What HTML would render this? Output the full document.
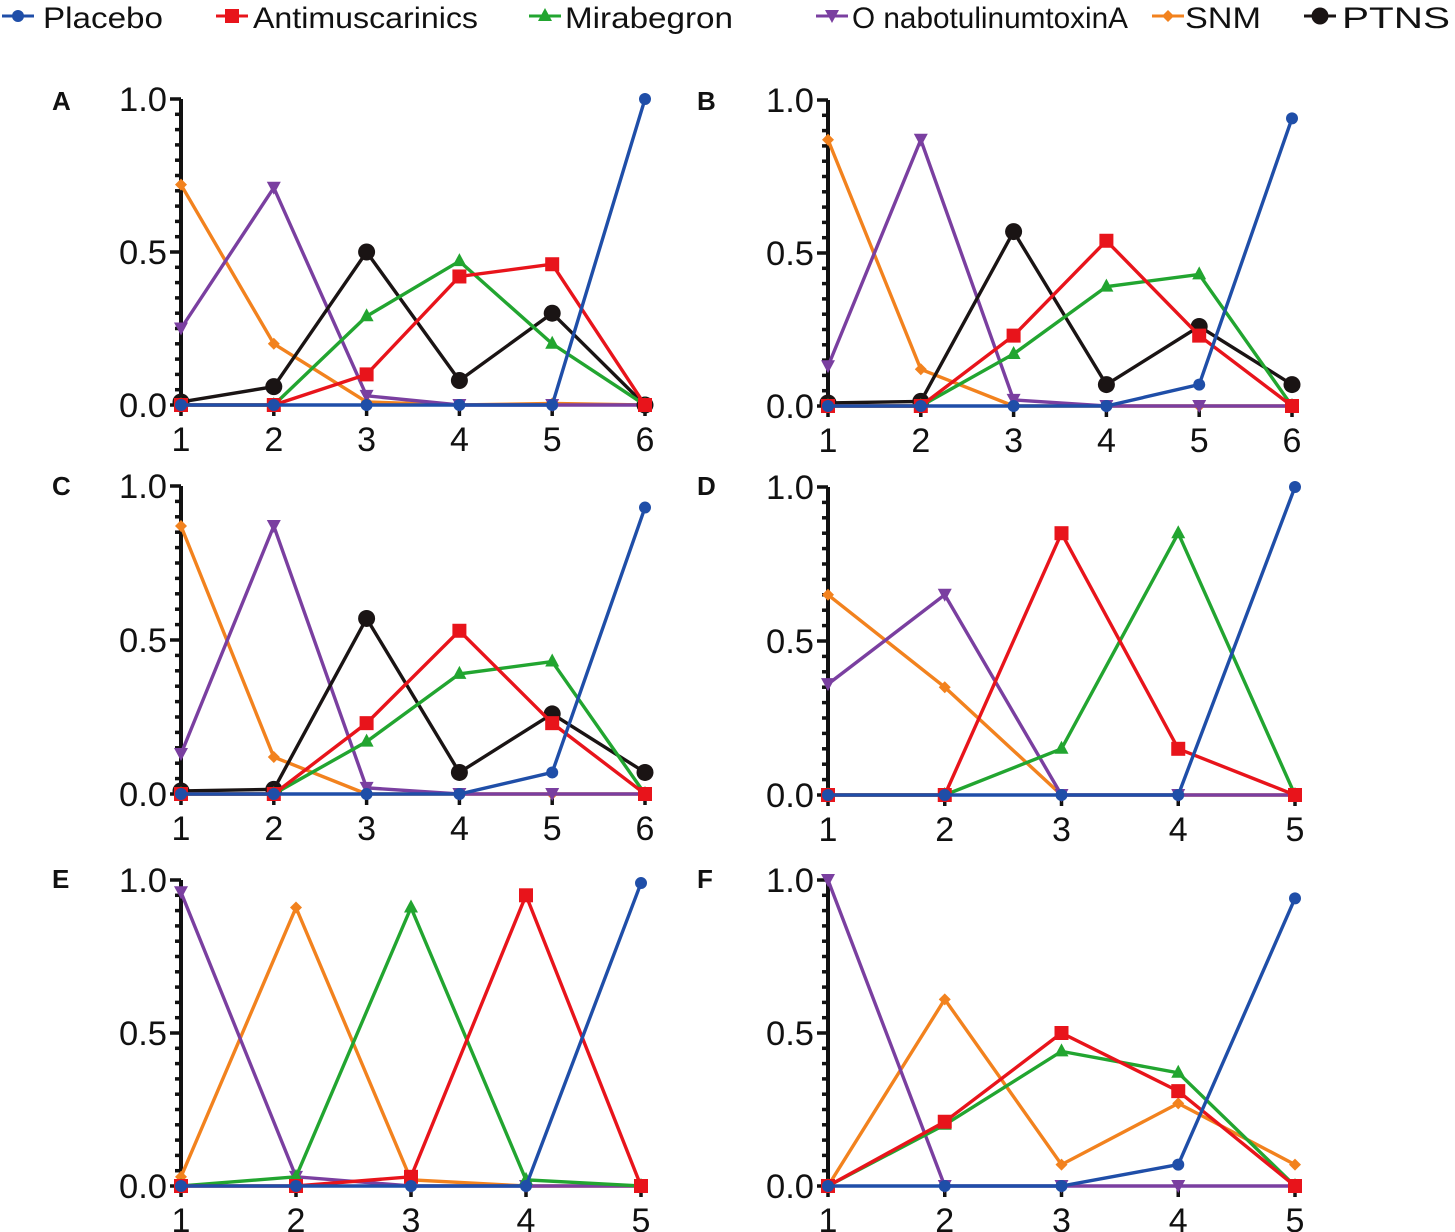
<!DOCTYPE html>
<html><head><meta charset="utf-8"><style>
html,body{margin:0;padding:0;background:#fff;}
svg{display:block;font-family:"Liberation Sans",Arial,sans-serif;}
</style></head><body>
<svg id="chart" width="1455" height="1232" viewBox="0 0 1455 1232"></svg>
<script>
const seriesNames = ["Placebo","Antimuscarinics","Mirabegron","OnabotulinumtoxinA","SNM","PTNS"];
const seriesColors = ["#1f4ea8","#e8141b","#22a530","#7a3fa0","#f2821e","#1a1414"];
const legendLabels = ["Placebo","Antimuscarinics","Mirabegron","O nabotulinumtoxinA","SNM","PTNS"];
const yTicks = [0,0.5,1.0];
const yTickLabels = ["0.0","0.5","1.0"];
const panelLabels = ["A","B","C","D","E","F"];
const panelCats = [[1,2,3,4,5,6],[1,2,3,4,5,6],[1,2,3,4,5,6],[1,2,3,4,5],[1,2,3,4,5],[1,2,3,4,5]];
const dataA = [[0,0,0,0,0,1.0],[0,0,0.1,0.42,0.46,0],[0,0,0.29,0.47,0.2,0],[0.25,0.71,0.03,0,0,0],[0.72,0.2,0.01,0,0.005,0],[0.01,0.06,0.5,0.08,0.3,0]];
const dataB = [[0,0,0,0,0.07,0.94],[0,0,0.23,0.54,0.23,0],[0,0,0.17,0.39,0.43,0],[0.13,0.87,0.02,0,0,0],[0.87,0.12,0,0,0,0],[0.01,0.015,0.57,0.07,0.26,0.07]];
const dataC = [[0,0,0,0,0.07,0.93],[0,0,0.23,0.53,0.23,0],[0,0,0.17,0.39,0.43,0],[0.13,0.87,0.02,0,0,0],[0.87,0.12,0,0,0,0],[0.01,0.015,0.57,0.07,0.26,0.07]];
const dataD = [[0,0,0,0,1.0],[0,0,0.85,0.15,0],[0,0,0.15,0.85,0],[0.36,0.65,0,0,0],[0.65,0.35,0,0,0]];
const dataE = [[0,0,0,0,0.99],[0,0,0.03,0.95,0],[0,0.03,0.91,0.02,0],[0.96,0.03,0,0,0],[0.03,0.91,0.02,0,0]];
const dataF = [[0,0,0,0.07,0.94],[0,0.21,0.5,0.31,0],[0,0.2,0.44,0.37,0],[1.0,0,0,0,0],[0,0.61,0.07,0.27,0.07]];
const panelData = [dataA,dataB,dataC,dataD,dataE,dataF];
const geom = [
 {x0:181,x1:645,yTop:99,yBot:405,lx:52,ly:110},
 {x0:828,x1:1292,yTop:100,yBot:406,lx:697,ly:110},
 {x0:181,x1:645,yTop:486,yBot:794,lx:52,ly:495},
 {x0:828,x1:1295,yTop:487,yBot:795,lx:697,ly:495},
 {x0:181,x1:641,yTop:880,yBot:1186,lx:52,ly:888},
 {x0:828,x1:1295,yTop:880,yBot:1186,lx:697,ly:888}
];
const NS="http://www.w3.org/2000/svg";
const svg=document.getElementById('chart');
function mk(tag,attrs,parent){const e=document.createElementNS(NS,tag);for(const k in attrs)e.setAttribute(k,attrs[k]);(parent||svg).appendChild(e);return e;}
function marker(g,s,x,y){
  const c=seriesColors[s];let m;
  if(s===0) m=mk('circle',{cx:x,cy:y,r:6,fill:c},g);
  else if(s===1) m=mk('rect',{x:x-7,y:y-7,width:14,height:14,fill:c},g);
  else if(s===2) m=mk('polygon',{points:`${x},${y-8} ${x+7},${y+5} ${x-7},${y+5}`,fill:c},g);
  else if(s===3) m=mk('polygon',{points:`${x-7},${y-6} ${x+7},${y-6} ${x},${y+7}`,fill:c},g);
  else if(s===4) m=mk('polygon',{points:`${x},${y-6} ${x+6},${y} ${x},${y+6} ${x-6},${y}`,fill:c},g);
  else m=mk('circle',{cx:x,cy:y,r:8.5,fill:c},g);
  
  
}
const legMark=[18,232,545,832,1168,1320];
const legTextX=[43,253,565,852,1185,1342];
const legW=[120,225,168,276,76,108];
const lg=mk('g',{});


legendLabels.forEach((t,i)=>{
  const e=mk('g',{},lg);
  
  
  mk('line',{x1:legMark[i]-16,y1:16,x2:legMark[i]+16,y2:16,stroke:seriesColors[i],'stroke-width':3},e);
  marker(e,i,legMark[i],16);
  const tx=mk('text',{x:legTextX[i],y:28,'font-size':30,fill:'#111',textLength:legW[i],lengthAdjust:'spacingAndGlyphs'},e);
  tx.textContent=t;
});
panelData.forEach((data,p)=>{
  const G=geom[p],cats=panelCats[p];
  const g=mk('g',{});
  
  
  const xs=c=>G.x0+(c-cats[0])/(cats[cats.length-1]-cats[0])*(G.x1-G.x0);
  const ys=v=>G.yBot-v*(G.yBot-G.yTop);
  const lab=mk('text',{x:G.lx,y:G.ly,'font-size':26,'font-weight':'bold',fill:'#111'},g);
  lab.textContent=panelLabels[p];
  
  const ya=mk('g',{},g);
  
  
  mk('line',{x1:G.x0,y1:G.yTop,x2:G.x0,y2:G.yBot,stroke:'#111','stroke-width':4},ya);
  for(let k=0;k<=20;k++){
    const y=ys(k*0.05),major=(k%10===0);
    mk('line',{x1:G.x0-(major?11:6),y1:y,x2:G.x0,y2:y,stroke:'#111','stroke-width':3.5},ya);
  }
  yTicks.forEach((v,i)=>{
    const t=mk('text',{x:G.x0-14,y:ys(v)+12,'font-size':34,'text-anchor':'end',fill:'#111',textLength:48,lengthAdjust:'spacingAndGlyphs'},ya);
    t.textContent=yTickLabels[i];
  });
  const xa=mk('g',{},g);
  
  
  mk('line',{x1:G.x0,y1:G.yBot,x2:G.x1,y2:G.yBot,stroke:'#111','stroke-width':3},xa);
  cats.forEach(c=>{
    mk('line',{x1:xs(c),y1:G.yBot,x2:xs(c),y2:G.yBot+11,stroke:'#111','stroke-width':3.5},xa);
    const t=mk('text',{x:xs(c),y:G.yBot+46,'font-size':34,'text-anchor':'middle',fill:'#111'},xa);
    t.textContent=c;
  });
  const order=[4,3,5,2,1,0].filter(s=>s<data.length);
  order.forEach(s=>{
    const vals=data[s];
    const sg=mk('g',{},g);
    
    
    const pts=vals.map((v,i)=>xs(cats[i])+','+ys(v)).join(' ');
    mk('polyline',{points:pts,fill:'none',stroke:seriesColors[s],'stroke-width':3.4},sg);
    vals.forEach((v,i)=>marker(sg,s,xs(cats[i]),ys(v)));
  });
});
</script>
</body></html>
